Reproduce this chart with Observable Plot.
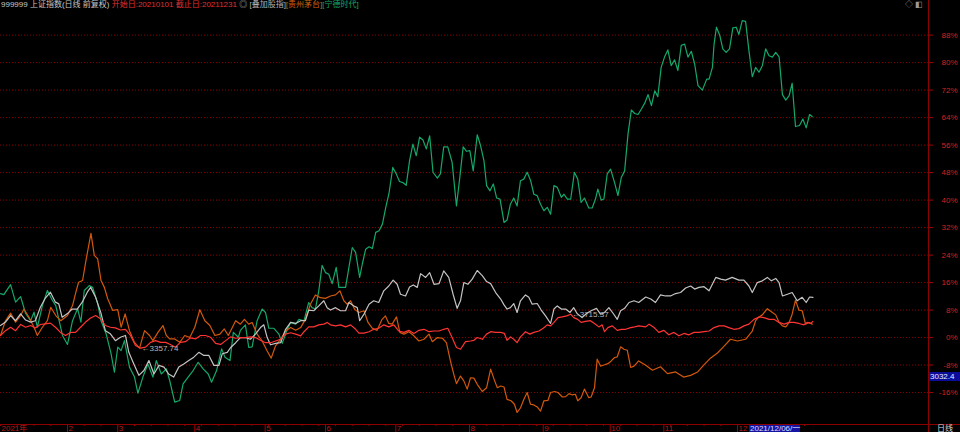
<!DOCTYPE html>
<html><head><meta charset="utf-8">
<script src="https://cdn.jsdelivr.net/npm/d3@7"></script>
<script src="https://cdn.jsdelivr.net/npm/@observablehq/plot@0.6"></script>
<style>
html,body{margin:0;padding:0;background:#000;}
#wrap{position:relative;width:960px;height:432px;overflow:hidden;background:#000;font-family:"Liberation Sans","Noto Sans CJK SC",sans-serif;}
#chart{position:absolute;left:0;top:0;}
.ov{position:absolute;white-space:pre;font-size:8px;}
.hdr{left:1px;top:0;line-height:10px;color:#c8c8c8;}
.vline{left:928px;top:0;width:1px;height:432px;background:#8c0000;}
.hline{left:0;top:424px;width:960px;height:1px;background:#8c0000;}
.pbox{left:929px;top:372px;width:30px;height:9px;line-height:9px;background:#0c0c9a;color:#e8e8ff;padding-left:1px;}
.dbox{left:749px;top:425px;width:50px;height:7px;line-height:8px;background:#1414a0;color:#dcdcff;padding-left:1px;}
.rday{left:937px;top:424px;line-height:9px;color:#d8d8d8;}
.icons{left:905px;top:0;line-height:10px;color:#9a9a9a;}
</style></head><body>
<div id="wrap">
<div id="chart"></div>
<div class="ov vline"></div>
<div class="ov hline"></div>
<div class="ov hdr"><span style="color:#c8c8c8">999999 上证指数(日线 前复权) </span><span style="color:#e03030">开始日:20210101 截止日:20211231 </span><span style="color:#b0b0b0">◎ [叠加股指]</span><span style="color:#d0600c">[贵州茅台]</span><span style="color:#16a86a">[宁德时代]</span></div>
<div class="ov icons">◇ ◧</div>
<div class="ov pbox">3032.4</div>
<div class="ov dbox">2021/12/06/一</div>
<div class="ov rday">日线</div>
</div>
<script>
// trading-day index (0 = first trading day of 2021) and % change vs 2020 close
const sseIndex = [[0,0.6],[1.5,2.0],[3,3.0],[4.5,2.0],[6,3.8],[7.5,3.0],[9,3.5],[10.4,2.8],[11.9,3.8],[13.4,4.0],[14.9,4.2],[16.4,3.0],[17.9,1.5],[19.4,0.6],[20.9,1.5],[22.4,1.5],[23.9,3.0],[25.4,4.5],[26.9,5.7],[28.4,6.4],[29.9,5.4],[31.3,3.5],[32.8,3.0],[34.3,2.8],[35.8,2.2],[37.3,2.4],[38.8,0.6],[40.3,-2.3],[41.8,-3.1],[43.3,-2.8],[44.8,-1.4],[46.3,-0.9],[47.8,-1.4],[49.3,-1.4],[50.7,-2.0],[52.2,-2.8],[53.7,-1.4],[55.2,-1.2],[56.7,-0.1],[58.2,-0.4],[59.7,0.6],[61.2,0.6],[62.7,0.1],[64.2,-1.7],[65.7,-2.0],[67.2,-0.9],[68.7,0.2],[70.2,-0.2],[71.6,0.0],[73.1,0.0],[74.6,0.2],[76.1,0.0],[77.6,-0.8],[79.1,-1.5],[80.6,-1.5],[82.1,-1.0],[83.6,-0.5],[85.1,1.0],[86.6,1.4],[88.1,1.0],[89.6,0.5],[90.6,1.7],[92.0,3.1],[93.5,3.1],[95.0,3.7],[96.5,3.9],[97.5,4.4],[98.5,3.7],[100.0,3.4],[101.5,3.7],[103.0,3.1],[104.5,3.7],[106.0,2.4],[107.0,1.3],[108.5,1.3],[110.0,1.7],[111.4,2.4],[112.9,2.7],[114.4,3.7],[115.9,3.1],[117.4,3.7],[118.9,1.9],[120.4,1.5],[121.9,2.1],[123.4,1.2],[124.9,2.1],[126.4,2.4],[127.9,1.7],[129.4,1.9],[130.9,1.9],[132.3,2.4],[133.5,2.7],[134.8,0.0],[136.1,-2.9],[137.3,-3.4],[138.8,-1.2],[140.3,-1.0],[141.3,-0.8],[142.3,0.0],[143.8,-0.5],[145.1,1.0],[146.3,1.7],[147.8,1.5],[149.3,1.5],[150.4,1.2],[151.2,-0.8],[152.2,0.2],[153.2,-0.5],[154.2,-1.5],[155.2,0.2],[156.7,1.7],[158.0,1.0],[159.2,1.5],[160.7,1.9],[162.0,2.7],[163.2,3.7],[164.2,3.4],[165.2,4.4],[166.4,5.8],[167.7,6.0],[169.0,6.3],[170.2,6.8],[171.1,5.8],[172.3,5.3],[173.3,4.4],[174.6,4.7],[176.1,4.9],[177.3,4.1],[178.6,3.1],[179.6,3.7],[180.3,1.7],[181.3,2.9],[182.6,3.4],[184.1,2.1],[185.3,2.4],[186.6,2.4],[188.1,2.9],[189.3,3.1],[190.5,3.4],[192.6,3.1],[193.6,3.9],[195.1,2.9],[196.5,1.5],[198.0,2.1],[199.5,0.8],[201.0,1.5],[202.5,0.5],[204.0,1.2],[205.5,0.8],[207.0,1.5],[208.5,1.5],[210.0,1.7],[211.5,1.9],[213.0,2.9],[214.5,3.4],[216.0,3.4],[217.4,2.9],[218.9,2.4],[220.4,2.6],[221.9,3.4],[223.4,3.9],[224.9,5.3],[226.4,6.0],[227.9,5.8],[229.4,5.3],[230.9,5.3],[232.4,4.4],[233.9,3.9],[235.4,4.4],[236.8,4.4],[238.3,4.1],[239.8,3.7],[240.8,4.4],[241.8,4.1],[242.5,4.7]];

const overlayIndex = [[0,3.5],[1.5,4.5],[3,6.4],[4.5,4.9],[6,6.9],[7.5,5.1],[9,4.5],[10.4,4.9],[11.9,8.8],[13.4,11.5],[14.9,13.2],[16.4,10.3],[17.4,9.8],[18.4,5.9],[19.9,6.9],[21.4,8.3],[22.9,8.3],[24.4,10.3],[25.9,13.2],[26.9,14.6],[28.4,11.7],[29.9,7.4],[31.3,2.0],[32.8,1.1],[34.3,-0.9],[35.8,0.1],[37.3,0.6],[38.3,-4.3],[39.8,-7.7],[41.3,-11.0],[42.8,-9.6],[44.3,-6.7],[45.8,-10.6],[47.3,-8.1],[48.8,-8.6],[50.2,-10.6],[51.7,-11.5],[53.2,-8.6],[54.7,-7.7],[56.2,-6.7],[57.7,-5.7],[59.2,-4.3],[60.7,-5.2],[62.2,-5.2],[63.7,-8.1],[65.2,-8.1],[66.2,-4.7],[67.7,-4.3],[68.7,-2.9],[70.2,-1.5],[71.6,0.0],[73.1,0.0],[74.6,-0.5],[76.1,1.0],[77.6,2.9],[78.6,3.7],[79.6,0.0],[80.6,-2.1],[82.1,-1.7],[83.6,-1.5],[85.1,2.4],[86.6,4.4],[88.1,4.1],[89.6,4.9],[91.0,4.9],[92.0,8.0],[93.5,7.8],[95.0,9.2],[96.5,10.7],[97.5,8.7],[98.5,8.0],[100.0,8.7],[101.5,7.8],[103.0,7.8],[104.0,10.2],[105.5,9.2],[106.5,8.7],[107.2,4.9],[108.5,6.8],[110.0,9.7],[111.4,10.7],[112.9,10.2],[114.4,13.6],[115.9,15.0],[117.2,16.7],[118.4,15.5],[119.4,12.6],[120.9,12.1],[122.1,14.7],[123.2,15.3],[124.4,14.6],[125.4,18.6],[126.9,17.5],[128.1,18.9],[129.4,15.5],[130.9,15.7],[132.3,19.4],[133.8,17.5],[135.1,12.6],[136.3,8.5],[137.3,10.7],[138.3,16.0],[139.5,15.5],[140.8,17.0],[142.3,19.5],[143.8,18.0],[145.1,16.3],[146.3,15.7],[147.8,13.1],[149.3,11.2],[150.3,9.5],[151.2,8.3],[152.2,8.7],[153.2,9.9],[154.2,7.3],[155.2,10.7],[156.7,12.4],[157.7,11.7],[158.7,9.7],[160.2,9.9],[161.4,8.0],[162.7,6.3],[164.2,4.1],[165.2,8.3],[166.2,9.2],[167.4,8.3],[168.7,8.3],[170.0,7.3],[171.1,8.7],[172.1,7.0],[173.6,5.8],[174.9,7.0],[176.3,7.8],[177.9,8.5],[179.1,6.8],[180.3,7.3],[181.6,8.7],[182.9,7.0],[184.1,5.3],[185.1,7.8],[186.3,8.5],[187.6,10.2],[189.1,10.7],[190.5,10.2],[192.6,11.8],[194.1,11.2],[195.5,10.2],[197.0,12.4],[198.5,12.1],[200.0,12.1],[201.5,12.8],[203.0,13.1],[204.5,14.4],[206.0,15.0],[207.2,14.1],[208.5,14.6],[210.0,14.8],[211.5,13.6],[213.5,17.5],[215.0,17.0],[216.4,16.7],[218.4,17.5],[220.4,16.7],[221.9,16.7],[223.4,15.0],[224.4,13.1],[225.9,16.0],[227.4,16.5],[228.9,17.5],[230.1,16.5],[231.4,17.2],[232.4,16.0],[233.4,12.1],[234.9,12.6],[236.3,13.1],[237.8,10.7],[239.3,11.7],[240.5,10.2],[241.5,11.8],[242.5,11.7]];

const moutai = [[0,0.6],[1.5,4.9],[3,7.1],[4.5,4.5],[6,6.4],[7,8.3],[8.5,5.9],[10,3.0],[11,0.6],[12.5,3.0],[14,4.9],[15,8.8],[16.5,6.4],[18,4.9],[20,6.4],[21.5,9.3],[22.5,13.2],[23.3,16.1],[24.5,16.6],[25.5,22.4],[27,30.3],[28,23.9],[29,22.9],[30,16.6],[31,14.6],[32,11.3],[33.5,7.9],[35,8.1],[36,3.0],[37.2,6.9],[38.5,2.0],[40,-1.4],[41.5,-3.1],[43,2.0],[44.5,0.6],[45.5,-0.9],[47,1.5],[48.5,3.5],[49.5,0.6],[50.5,-0.4],[52,-0.4],[53.5,-1.4],[55,0.6],[56.5,0.0],[58,3.0],[59.5,8.1],[61,4.9],[62.5,3.5],[64,0.6],[65.5,1.0],[66.8,2.5],[68,0.6],[70.2,4.9],[71.6,3.9],[72.8,5.3],[74.1,3.9],[75.1,4.4],[76.6,1.0],[78.1,-1.0],[79.6,-3.9],[80.8,-6.0],[82.1,-2.4],[83.6,-0.5],[85.1,1.9],[86.6,2.9],[88.1,2.1],[89.6,2.9],[91.0,5.3],[92.5,9.7],[94.0,12.4],[95.5,11.6],[97.0,11.4],[98.5,12.1],[100.0,12.4],[101.3,13.6],[102.5,10.7],[103.5,9.7],[104.5,10.7],[105.7,8.2],[107.0,7.3],[108.5,7.8],[109.7,4.4],[111.0,2.7],[112.4,2.1],[113.9,5.3],[114.9,6.3],[115.9,4.1],[116.9,3.9],[118.2,6.0],[119.2,1.5],[120.4,1.0],[121.9,1.7],[123.4,0.5],[124.9,-1.0],[126.4,-0.5],[127.9,1.0],[128.9,-1.2],[130.4,0.0],[131.9,-0.2],[133.1,-1.5],[134.3,-6.8],[135.3,-10.7],[136.1,-13.4],[137.3,-11.2],[138.3,-12.6],[139.3,-15.0],[140.3,-11.7],[141.3,-11.8],[142.3,-13.6],[143.8,-15.7],[145.1,-14.6],[146.3,-9.2],[147.5,-12.6],[148.3,-14.6],[149.3,-14.1],[150.3,-14.4],[151.2,-18.0],[152.4,-18.4],[153.4,-19.4],[154.2,-21.8],[155.2,-20.5],[156.2,-18.0],[157.2,-16.0],[158.2,-19.4],[159.2,-19.6],[160.2,-20.2],[161.2,-21.4],[162.2,-18.4],[163.4,-18.3],[164.2,-16.0],[165.4,-15.7],[166.4,-16.0],[167.7,-17.3],[168.7,-17.2],[169.7,-16.3],[170.7,-16.7],[171.6,-16.5],[172.3,-18.4],[173.3,-17.5],[174.3,-15.0],[175.6,-17.5],[176.3,-17.3],[177.3,-14.6],[178.1,-6.3],[179.1,-8.3],[180.1,-8.0],[181.3,-7.6],[182.3,-6.8],[183.3,-5.8],[184.1,-5.6],[185.1,-2.7],[186.1,-3.4],[187.1,-3.7],[188.1,-8.7],[189.1,-8.3],[190.5,-6.8],[192.5,-8.0],[194.6,-9.5],[197.0,-8.5],[199.1,-10.5],[201.5,-10.0],[203.9,-11.5],[206.0,-11.0],[208.1,-10.0],[209.9,-8.0],[211.9,-6.0],[214.0,-4.5],[215.5,-3.0],[217.9,-0.5],[220.0,-1.0],[222.4,-0.5],[224.4,1.9],[225.4,4.9],[226.4,6.0],[227.4,6.6],[228.9,8.4],[230.4,7.3],[231.4,6.6],[232.4,4.4],[233.4,3.4],[234.4,3.1],[235.4,4.4],[236.3,6.8],[237.3,10.9],[238.3,8.0],[239.3,7.8],[240.3,3.9],[241.3,4.4],[242.3,3.9]];

const catl = [[0,12.8],[1,12.5],[3,15.4],[4.5,10.3],[6,11.9],[7.5,7.0],[9,4.9],[10,7.4],[11,3.0],[12.5,9.3],[14,13.7],[15.5,10.8],[16.5,9.3],[17.5,4.9],[18.5,0.6],[20,-2.0],[21.5,4.9],[23,8.4],[24,4.5],[25,13.7],[26.5,15.1],[27.5,14.6],[29,9.9],[30,4.9],[31.5,1.2],[33,-4.7],[34,-10.1],[35,-2.8],[36,-3.8],[37,-0.9],[38.5,-8.6],[40,-11.5],[41,-16.2],[42.5,-11.5],[44,-7.7],[45.5,-11.5],[46.5,-6.7],[48,-10.6],[49.5,-9.1],[50.5,-12.5],[52,-18.8],[53.5,-18.3],[54.5,-13.5],[56,-11.5],[57.5,-9.6],[59,-7.2],[60.5,-9.1],[62,-10.6],[63,-13.0],[64.5,-9.6],[66,-3.3],[67,-5.7],[68.5,-6.7],[69.5,1.5],[71,0.1],[71.6,2.1],[73.1,3.7],[74.1,-2.9],[75.1,-2.7],[76.6,4.9],[78.1,8.3],[79.1,7.3],[80.1,2.7],[81.6,2.7],[83.1,1.0],[84.1,-1.7],[85.6,2.4],[86.6,4.4],[88.1,3.9],[89.1,5.3],[90.6,4.9],[92.0,10.2],[93.0,8.7],[94.0,8.3],[95.0,13.6],[96.0,21.0],[97.0,18.9],[98.0,18.4],[99.0,15.7],[100.2,20.4],[101.0,14.6],[102.0,14.6],[103.0,14.6],[104.0,20.4],[105.0,26.2],[106.0,24.8],[107.2,17.5],[108.0,21.4],[109.0,25.7],[110.0,26.4],[111.0,25.9],[112.0,30.6],[113.0,31.1],[114.0,33.0],[115.0,37.9],[116.0,42.2],[117.1,49.5],[118.1,47.7],[119.1,45.4],[120.1,45.1],[121.1,44.3],[122.1,51.5],[123.1,56.3],[124.1,52.9],[125.1,58.3],[126.1,57.5],[127.1,54.9],[128.1,58.7],[129.1,48.1],[130.4,46.4],[131.3,47.6],[132.3,55.5],[133.5,55.5],[134.8,51.0],[136.1,38.3],[137.1,46.6],[138.1,55.5],[139.1,54.2],[140.1,54.4],[141.1,48.5],[142.3,59.0],[143.3,55.8],[144.3,51.5],[145.1,44.2],[146.1,42.7],[147.1,44.7],[148.1,40.6],[149.1,40.3],[150.3,33.5],[151.2,34.2],[152.2,38.8],[153.2,40.6],[154.2,38.3],[155.2,45.6],[156.2,46.1],[157.2,48.1],[158.2,45.8],[159.2,41.7],[160.2,41.3],[161.2,38.8],[162.2,36.9],[163.2,37.9],[164.2,35.9],[165.2,44.2],[166.2,43.7],[167.4,40.8],[168.2,41.7],[169.2,40.3],[170.2,40.3],[171.3,48.1],[172.3,46.1],[173.3,39.3],[174.3,40.6],[175.6,37.7],[176.6,37.7],[177.6,40.3],[178.3,43.2],[179.3,40.0],[180.1,40.3],[181.1,47.6],[182.1,49.0],[183.3,45.1],[184.3,41.3],[185.3,46.6],[186.3,48.5],[187.3,59.2],[188.3,66.2],[189.3,65.2],[190.3,64.9],[191.3,66.5],[192.3,68.2],[193.3,70.7],[194.3,67.5],[195.3,71.8],[196.2,70.1],[197.2,78.6],[198.2,81.6],[199.2,83.7],[200.2,79.1],[201.2,80.8],[202.2,77.7],[203.2,85.0],[204.2,85.4],[205.2,81.6],[206.2,83.3],[207.2,79.6],[208.2,73.3],[209.5,72.0],[210.8,75.2],[211.5,75.2],[212.5,78.6],[213.0,85.4],[213.7,90.3],[214.7,87.9],[215.6,84.0],[216.6,83.0],[217.6,84.0],[218.6,90.1],[219.6,90.3],[220.4,88.2],[221.4,92.2],[222.4,92.0],[223.4,83.5],[224.4,75.9],[225.4,78.6],[226.4,77.2],[227.4,79.1],[228.4,84.0],[229.4,82.0],[230.4,81.6],[231.4,83.0],[232.4,81.7],[233.4,70.7],[234.4,69.1],[235.4,70.4],[236.3,74.0],[237.3,61.4],[238.5,61.7],[239.5,63.6],[240.5,61.0],[241.5,64.9],[242.3,64.3]];

// axis ticks and labels
const yTicks = [-16, -8, 0, 8, 16, 24, 32, 40, 48, 56, 64, 72, 80, 88];
const monthStarts = [0, 20, 35, 58, 79, 97, 118, 140, 162, 182, 198, 220];
const monthLabels = ["2021年", "2", "3", "4", "5", "6", "7", "8", "9", "10", "11", "12"];
const weekTicks = d3.range(0, 243, 5);

// high / low markers of the main index
const markDays = [41.8, 170.2];
const markPct = [-3.1, 6.8];
const markText = ["←3357.74", "←3715.37"];

const toRows = (arr) => arr.map(([day, pct]) => ({day, pct}));
const labelOf = new Map(monthStarts.map((d, i) => [d, monthLabels[i]]));
const marks = markDays.map((d, i) => ({day: d, pct: markPct[i], text: markText[i]}));

const chart = Plot.plot({
  width: 960,
  height: 432,
  marginTop: 14,
  marginBottom: 8,
  marginLeft: 0,
  marginRight: 32,
  style: {background: "#000", fontFamily: '"Liberation Sans","Noto Sans CJK SC",sans-serif', fontSize: "8px", overflow: "visible"},
  x: {domain: [0, 277], axis: null},
  y: {domain: [-25.3, 94], axis: null},
  marks: [
    Plot.gridY({ticks: yTicks, stroke: "#8a0000", strokeOpacity: 1, strokeDasharray: "1,2"}),
    Plot.axisY({ticks: yTicks, anchor: "right", label: null, tickSize: 4, tickPadding: 25, textAnchor: "end",
      tickFormat: d => d + "%", stroke: "#a00000", fill: "#d42020"}),
    Plot.axisX({ticks: weekTicks, anchor: "bottom", label: null, tickSize: 2, tickFormat: () => "", stroke: "#8c0000"}),
    Plot.axisX({ticks: monthStarts.slice(1), anchor: "bottom", label: null, tickSize: 8, tickFormat: () => "", stroke: "#a00000"}),
    Plot.axisX({ticks: monthStarts, anchor: "bottom", label: null, tickSize: 0, tickPadding: 1, textAnchor: "start", dx: 1,
      tickFormat: d => labelOf.get(d), fill: "#b41c1c"}),
    Plot.line(toRows(catl), {x: "day", y: "pct", stroke: "#14a86a", strokeWidth: 1.2}),
    Plot.line(toRows(moutai), {x: "day", y: "pct", stroke: "#d2580c", strokeWidth: 1.2}),
    Plot.line(toRows(overlayIndex), {x: "day", y: "pct", stroke: "#c4c4c4", strokeWidth: 1.2}),
    Plot.line(toRows(sseIndex), {x: "day", y: "pct", stroke: "#ff3434", strokeWidth: 1.2}),
    Plot.text(marks, {x: "day", y: "pct", text: "text", textAnchor: "start", dx: 1, fill: "#b8b8b8", fontSize: 8})
  ]
});
document.getElementById("chart").appendChild(chart);
</script>
</body></html>
